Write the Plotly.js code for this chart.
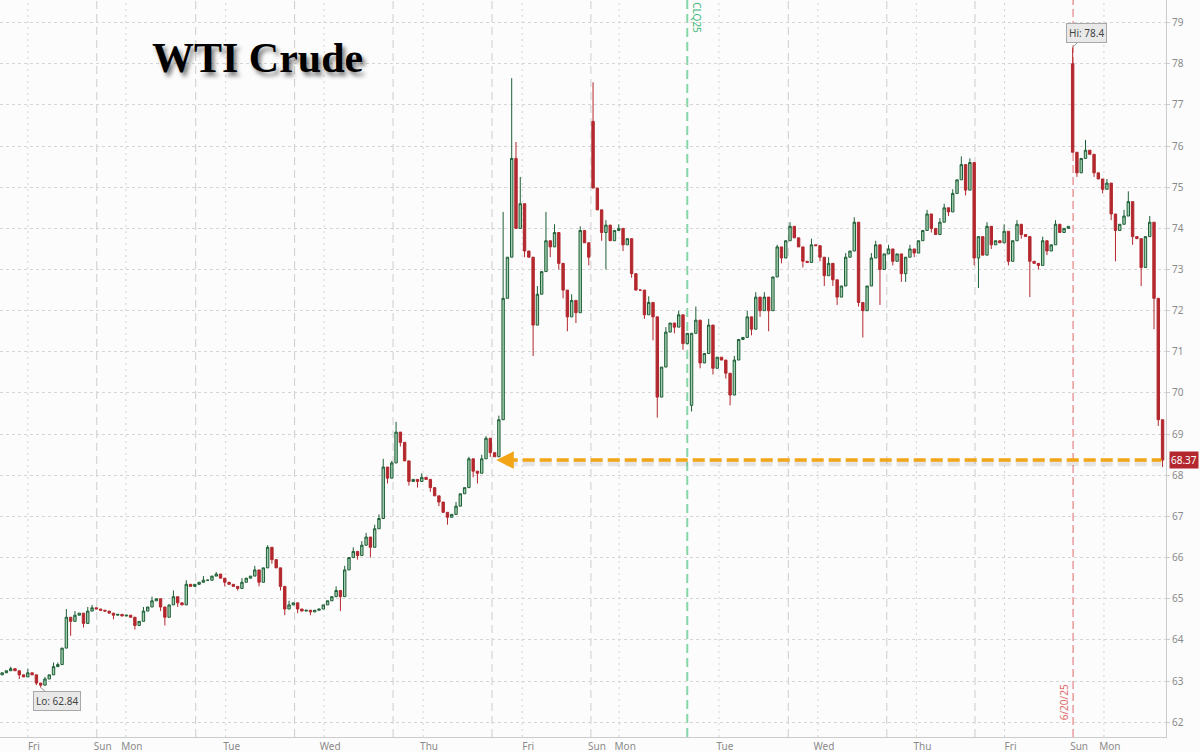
<!DOCTYPE html>
<html><head><meta charset="utf-8">
<script src="https://cdn.plot.ly/plotly-3.0.1.min.js"></script>
<style>html,body{margin:0;padding:0;background:#fcfcfc;}#chart{width:1200px;height:752px;}</style>
</head><body><div id="chart"></div>
<script>
// Hourly closes of WTI crude (front month)
const closes = [
63.2,63.25,63.3,63.25,63.15,63.1,63.2,63.15,62.95,62.9,
63.05,63.15,63.35,63.4,63.8,64.55,64.45,64.6,64.65,64.4,
64.7,64.78,64.75,64.72,64.7,64.65,64.6,64.62,64.58,64.6,
64.55,64.35,64.45,64.7,64.8,64.95,65.0,64.8,64.55,64.85,
65.05,64.9,64.85,65.35,65.3,65.35,65.4,65.45,65.45,65.55,
65.6,65.5,65.4,65.35,65.3,65.25,65.4,65.5,65.55,65.7,
65.4,65.75,66.25,65.95,65.75,65.3,64.75,64.85,64.9,64.75,
64.7,64.72,64.68,64.72,64.75,64.85,64.95,65.05,65.2,65.05,
65.7,66.0,66.15,66.05,66.3,66.5,66.25,66.7,66.95,68.2,
67.93,68.3,69.05,68.8,68.35,67.85,67.9,67.85,67.95,67.9,
67.7,67.5,67.35,67.1,66.98,67.05,67.25,67.55,67.7,68.4,
68.1,68.05,68.4,68.9,68.55,68.45,69.35,72.3,73.3,75.7,
74.0,74.6,73.45,73.3,71.65,72.4,72.95,73.7,73.55,73.9,
73.15,72.5,71.85,72.25,71.95,73.95,73.65,73.3,74.98,74.45,
73.9,74.08,73.7,73.95,74.0,73.6,73.75,72.9,72.5,72.5,
71.9,72.2,71.85,69.9,70.63,71.48,71.7,71.6,71.9,71.2,
71.45,71.45,71.77,70.73,70.96,71.65,70.6,70.87,70.8,70.48,
69.95,70.8,71.3,71.35,71.85,71.55,72.33,72.0,72.33,72.0,
72.82,73.55,73.28,73.7,74.05,73.77,73.55,73.2,73.17,73.6,
73.58,73.3,72.85,73.15,72.75,72.33,72.6,73.3,73.45,74.15,
72.2,72.0,72.6,73.28,73.6,73.0,73.38,73.5,73.2,73.38,
72.9,73.3,73.5,73.4,73.7,73.95,74.35,74.0,73.85,74.15,
74.5,74.4,74.85,75.18,75.55,74.93,75.6,73.28,73.8,73.35,
74.05,73.6,73.7,73.65,73.93,73.2,73.7,74.1,73.85,73.8,
73.2,73.15,73.1,73.7,73.45,73.6,74.1,73.9,74.0,74.05,
75.85,75.35,75.7,75.9,75.8,75.35,75.2,74.95,75.1,74.35,
73.95,74.1,74.3,74.65,73.8,73.75,73.05,73.8,74.15,72.3,
69.35,68.37
];
// opens that differ from the previous close (session gaps / contract roll)
const gapOpens = {0: 63.15, 138: 76.6, 161: 69.7, 250: 78.0};
// upper / lower wicks
const wickHighs = {2:63.35, 6:63.3, 10:63.1, 12:63.45, 13:63.45, 15:64.75, 17:64.7, 20:64.8, 21:64.85,
  33:64.8, 35:65.05, 40:65.2, 43:65.45, 47:65.55, 50:65.65, 56:65.5, 59:65.8, 62:66.3, 67:64.95,
  78:65.3, 80:65.8, 82:66.25, 84:66.4, 85:66.6, 87:66.8, 88:67.05, 89:68.4, 91:68.35, 92:69.3,
  98:68.05, 106:67.35, 109:68.45, 112:68.5, 113:68.95, 116:69.45, 117:74.4, 119:77.65, 120:76.1,
  121:75.25, 125:72.6, 127:74.4, 129:74.1, 133:72.4, 135:74.05, 138:77.55, 141:74.2, 144:74.1,
  151:72.35, 155:71.6, 158:72.0, 162:72.1, 165:71.8, 171:70.9, 174:72.0, 176:72.45, 178:72.45,
  181:73.6, 184:74.15, 189:73.75, 193:73.3, 197:73.4, 199:74.27, 203:73.4, 204:73.7, 207:73.6,
  212:73.6, 216:74.45, 219:74.25, 220:74.6, 222:74.95, 224:75.75, 226:75.7, 230:74.15, 234:74.1,
  237:74.2, 243:73.8, 246:74.2, 250:78.4, 253:76.15, 258:75.2, 262:74.45, 263:74.9, 268:74.3};
const wickLows = {4:63.05, 8:62.9, 9:62.84, 11:63.05, 16:64.1, 19:64.3, 26:64.5, 31:64.25, 37:64.7,
  38:64.35, 41:64.8, 52:65.3, 55:65.2, 60:65.3, 63:65.85, 65:65.2, 66:64.6, 69:64.65, 72:64.6,
  79:64.7, 83:65.95, 86:66.0, 90:67.8, 93:68.7, 95:67.75, 97:67.7, 100:67.6, 102:67.25, 104:66.8,
  110:67.95, 111:67.8, 114:68.45, 122:73.3, 124:70.9, 128:73.3, 130:73.0, 131:72.3, 132:71.5,
  134:71.7, 137:73.1, 140:73.7, 141:73.0, 145:73.45, 147:72.8, 150:71.8, 152:71.28, 153:69.4,
  157:71.45, 159:71.05, 161:69.55, 163:70.6, 166:70.45, 169:70.35, 170:69.7, 175:71.4, 177:71.85,
  179:71.5, 182:73.15, 187:73.05, 191:73.2, 192:72.6, 194:72.6, 195:72.14, 200:72.1, 201:71.35,
  205:72.14, 208:73.1, 210:72.7, 211:72.7, 213:73.3, 217:73.9, 221:74.3, 225:74.8, 227:73.1,
  228:72.55, 231:73.5, 235:73.1, 238:73.75, 240:72.33, 242:73.0, 244:73.35, 251:75.25, 255:75.25,
  257:74.85, 259:74.2, 260:73.2, 264:73.6, 266:72.6, 269:71.55, 270:69.2, 271:68.2};

const dayTickPos  = [6.0, 22.1, 28.9, 52.2, 75.2, 98.3, 121.45, 137.5, 144.1, 167.4, 190.5, 213.5, 234.1, 250.1, 257.3];
const dayTickText = ['Fri','Sun','Mon','Tue','Wed','Thu','Fri','Sun','Mon','Tue','Wed','Thu','Fri','Sun','Mon'];
const sessionLines  = [22.1, 45.2, 68.3, 91.3, 114.4, 137.5, 183.6, 206.6, 227.2];
const midnightLines = [6.0, 28.9, 52.2, 75.2, 98.3, 121.45, 144.1, 167.4, 190.5, 213.5, 234.1, 257.3];
const rollLine = 160.0, rollLabel = 'CLQ25';
const expiryLine = 250.1, expiryLabel = '6/20/25';
const priceTicks = [62,63,64,65,66,67,68,69,70,71,72,73,74,75,76,77,78,79];
const titleText = 'WTI Crude';

const idx = closes.map((_, i) => i);
const opens = closes.map((c, i) => (i in gapOpens) ? gapOpens[i] : closes[i - 1]);
const highs = closes.map((c, i) => Math.max(opens[i], c, (i in wickHighs) ? wickHighs[i] : -Infinity));
const lows  = closes.map((c, i) => Math.min(opens[i], c, (i in wickLows) ? wickLows[i] : Infinity));

let hiI = 0, loI = 0;
highs.forEach((h, i) => { if (h > highs[hiI]) hiI = i; });
lows.forEach((l, i) => { if (l < lows[loI]) loI = i; });
const last = closes.length - 1;
const lastClose = closes[last];

const trace = {
  type: 'candlestick', x: idx, open: opens, high: highs, low: lows, close: closes,
  increasing: {line: {color: '#1d5f36', width: 1}, fillcolor: '#a3cdb0'},
  decreasing: {line: {color: '#b3282e', width: 1}, fillcolor: '#b3282e'},
  whiskerwidth: 0, hoverinfo: 'skip', showlegend: false
};

const shapes = [];
midnightLines.forEach(x => shapes.push({type:'line', xref:'x', yref:'paper', x0:x, x1:x, y0:0, y1:1,
  line:{color:'#d4d4d4', width:1, dash:'2px,4px'}, layer:'below'}));
sessionLines.forEach(x => shapes.push({type:'line', xref:'x', yref:'paper', x0:x, x1:x, y0:0, y1:1,
  line:{color:'#cdcdcd', width:1, dash:'8px,5px'}, layer:'below'}));
shapes.push({type:'line', xref:'x', yref:'paper', x0:rollLine, x1:rollLine, y0:0, y1:1,
  line:{color:'#86d6a8', width:2, dash:'9px,5px'}, layer:'below'});
shapes.push({type:'line', xref:'x', yref:'paper', x0:expiryLine, x1:expiryLine, y0:0, y1:1,
  line:{color:'#e06a6a', width:1, dash:'8px,4px'}, layer:'below'});
// orange dashed arrow line at the last price, with a soft shadow
shapes.push({type:'line', xref:'x', yref:'y', x0:117.6, x1:last - 0.3, y0:lastClose - 0.08, y1:lastClose - 0.08,
  line:{color:'rgba(0,0,0,0.09)', width:6, dash:'12px,5px'}});
shapes.push({type:'line', xref:'x', yref:'y', x0:117.6, x1:last - 0.3, y0:lastClose, y1:lastClose,
  line:{color:'#f2a516', width:3.5, dash:'12px,5px'}});

const annotations = [
  {xref:'paper', yref:'paper', x:0.221, y:0.921, xanchor:'center', yanchor:'middle', text:titleText, showarrow:false,
   font:{family:'Liberation Serif, Times New Roman, serif', size:42, color:'#000', weight:'bold',
         shadow:'3px 4px 4px rgba(0,0,0,0.5)'}},
  {xref:'x', yref:'y', x:115.4, y:lastClose, ax:119.5, ay:lastClose, axref:'x', ayref:'y',
   showarrow:true, arrowhead:2, arrowsize:1, arrowwidth:3.5, arrowcolor:'#f2a516', text:''},
  {xref:'x', yref:'y', x:hiI, y:highs[hiI], ax:14, ay:-14, showarrow:true, arrowhead:0, arrowwidth:1,
   arrowcolor:'#9a9a9a', standoff:0, text:'Hi: ' + highs[hiI].toFixed(1), bgcolor:'#e9e9e9',
   bordercolor:'#a8a8a8', borderwidth:1, borderpad:2, font:{family:'Noto Sans', size:10, color:'#444'}},
  {xref:'x', yref:'y', x:loI, y:lows[loI], ax:16, ay:13, showarrow:true, arrowhead:0, arrowwidth:1,
   arrowcolor:'#9a9a9a', standoff:0, text:'Lo: ' + lows[loI].toFixed(2), bgcolor:'#e9e9e9',
   bordercolor:'#a8a8a8', borderwidth:1, borderpad:2, font:{family:'Noto Sans', size:10, color:'#444'}},
  {xref:'paper', yref:'y', x:1, y:lastClose, xanchor:'left', xshift:3, showarrow:false,
   text:lastClose.toFixed(2), bgcolor:'#b3282e', borderpad:1, font:{family:'Noto Sans', size:10, color:'#fff'}},
  {xref:'x', yref:'paper', x:rollLine, y:1, xanchor:'left', yanchor:'top', xshift:1, showarrow:false,
   text:rollLabel, textangle:90, font:{family:'Noto Sans', size:10, color:'#3cb878'}},
  {xref:'x', yref:'paper', x:expiryLine, y:0.02, xanchor:'right', yanchor:'bottom', xshift:0, showarrow:false,
   text:expiryLabel, textangle:-90, font:{family:'Noto Sans', size:10, color:'#e06a6a'}}
];

const layout = {
  width: 1200, height: 752,
  margin: {l: 0, r: 34, t: 0, b: 15},
  paper_bgcolor: '#fcfcfc', plot_bgcolor: '#fcfcfc',
  showlegend: false, boxgap: 0.2,
  xaxis: {type:'linear', range:[-0.5, 271.8], showgrid:false, zeroline:false, rangeslider:{visible:false},
    tickmode:'array', tickvals:dayTickPos, ticktext:dayTickText, ticks:'', ticklabelshift:6,
    tickfont:{family:'Noto Sans', size:10, color:'#8a8a8a'}, showline:true, linecolor:'#cccccc', linewidth:1,
    automargin:false, fixedrange:true},
  yaxis: {side:'right', range:[61.64, 79.55], tickmode:'array', tickvals:priceTicks,
    showgrid:true, gridcolor:'#d6d6d6', griddash:'dot', zeroline:false, ticks:'outside', ticklen:3,
    tickcolor:'#cccccc', showline:true, linecolor:'#cccccc', linewidth:1,
    tickfont:{family:'Noto Sans', size:10, color:'#8a8a8a'}, automargin:false, fixedrange:true},
  shapes: shapes, annotations: annotations
};

Plotly.newPlot('chart', [trace], layout, {displayModeBar:false, staticPlot:true});
</script></body></html>
